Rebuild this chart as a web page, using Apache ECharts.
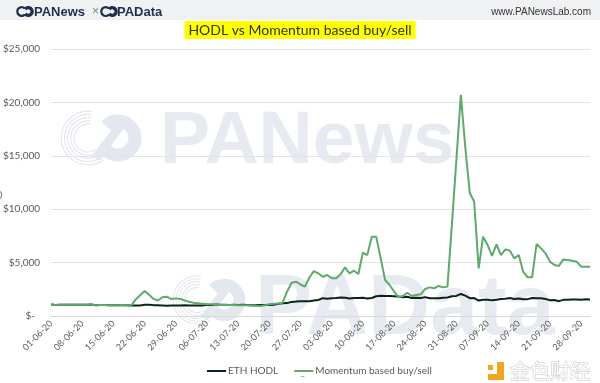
<!DOCTYPE html>
<html><head><meta charset="utf-8">
<script src="https://cdn.jsdelivr.net/npm/echarts@6/dist/echarts.min.js"></script>
<style>html,body{margin:0;padding:0;background:#fff}#c{width:600px;height:383px}</style>
</head><body><div id="c"></div>
<script>
// ---- data ----
const startDate = [2020, 5, 1]; // 01-06-20, daily through 30-09-20
const dayCount = 122;
const yTicks = [0, 5000, 10000, 15000, 20000, 25000];
const seriesNames = ['ETH HODL', 'Momentum based buy/sell'];
const ethHodl = [
 1069,1026,1057,1057,1044,1048,1061,1065,1057,1069,1000,1026,1031,1013,1000,1018,1022,1009,992,992,987,1052,1057,1018,1005,992,957,979,987,979,
 1000,992,979,992,983,1044,1035,1070,1052,1048,1035,1044,1035,1044,1031,1009,1009,1022,1035,1022,1061,1139,1191,1208,1321,1347,1390,1373,1377,1446,1498,
 1671,1606,1671,1684,1736,1710,1641,1693,1693,1710,1645,1684,1849,1897,1879,1875,1858,1832,1758,1801,1676,1710,1693,1767,1658,1671,1654,1710,1732,1853,1884,
 2065,1905,1667,1680,1451,1528,1528,1464,1520,1593,1619,1676,1585,1632,1576,1580,1680,1667,1658,1602,1477,1490,1390,1511,1524,1537,1546,1533,1559,1554
];
const momentum = [
 1069,1026,1057,1057,1044,1048,1061,1065,1057,1069,1000,1026,1031,1013,1000,1018,1022,1009,992,
 1550,1950,2340,2000,1600,1450,1750,1810,1590,1650,1600,
 1450,1330,1250,1190,1150,1110,1090,1060,1040,1030,
 1030,1020,1010,1000,1000,990,960,940,1000,1100,
 1150,1180,1250,2300,3120,3210,2950,2750,3600,4200,
 4000,3680,3840,3530,3530,3900,4560,4000,4240,3930,
 5930,5710,7430,7430,5400,3370,2900,2300,1750,1870,
 2180,1870,1970,2030,2530,2680,2590,2810,2680,2750,
 8600,14600,20700,15800,11540,10700,4460,7430,6650,5620,
 6710,5710,6240,6120,5400,5710,4150,3620,3620,6740,
 6330,5870,5090,4770,4680,5300,5240,5180,5090,4620,
 4620,4620
];
const titleText = 'HODL vs Momentum based buy/sell';

// categories (dd-mm-yy)
const categories = [];
{
  const d0 = new Date(Date.UTC(startDate[0], startDate[1], startDate[2]));
  for (let i = 0; i < dayCount; i++) {
    const d = new Date(d0.getTime() + i * 86400000);
    const dd = String(d.getUTCDate()).padStart(2, '0');
    const mm = String(d.getUTCMonth() + 1).padStart(2, '0');
    categories.push(dd + '-' + mm + '-' + String(d.getUTCFullYear()).slice(2));
  }
}

const FONT = 'Lato, "Open Sans", sans-serif';
const WM = '#e3e7ee';
const HODL_COLOR = '#0b2418';
const MOM_COLOR = '#5ea96b';
const chart = echarts.init(document.getElementById('c'), null, {renderer: 'canvas'});

function logoIcon(cx, cy, s, color, z) {
  return [
    {type: 'arc', z: z, silent: true, shape: {cx: cx - 3*s, cy: cy, r: 4*s, startAngle: Math.PI*0.25, endAngle: Math.PI*1.75, clockwise: true},
     style: {stroke: color, lineWidth: 2*s, fill: null}},
    {type: 'arc', z: z, silent: true, shape: {cx: cx + 3*s, cy: cy, r: 3.5*s, startAngle: -Math.PI*0.8, endAngle: Math.PI*0.8, clockwise: true},
     style: {stroke: color, lineWidth: 3*s, fill: null}}
  ];
}

function bigIcon(cx, cy, s, z) {
  const els = [];
  for (let k = 0; k < 5; k++) {
    els.push({type: 'arc', z: z, silent: true,
      shape: {cx: cx - 12*s, cy: cy, r: (14 + k*3.2)*s, startAngle: Math.PI*0.3, endAngle: Math.PI*1.55, clockwise: true},
      style: {stroke: WM, lineWidth: 1.2*s, fill: null}});
  }
  els.push({type: 'arc', z: z, silent: true,
    shape: {cx: cx + 18*s, cy: cy, r: 17*s, startAngle: -Math.PI*0.75, endAngle: Math.PI*0.75, clockwise: true},
    style: {stroke: WM, lineWidth: 13*s, fill: null}});
  els.push({type: 'line', z: z, silent: true,
    shape: {x1: cx - 4*s, y1: cy + 20*s, x2: cx + 26*s, y2: cy - 20*s},
    style: {stroke: WM, lineWidth: 9*s}});
  return els;
}

const graphics = [
  {type: 'rect', z: -5, silent: true, shape: {x: 0, y: 0, width: 600, height: 20}, style: {fill: '#f0f1f3'}},
  ...logoIcon(25, 11.5, 1.1, '#1f2d50', 1),
  {type: 'text', z: 1, silent: true, style: {x: 34, y: 12, text: 'PANews', font: 'bold 13px "Liberation Sans", Arial, sans-serif', fill: '#1f2d50', verticalAlign: 'middle'}},
  {type: 'text', z: 1, silent: true, style: {x: 92, y: 12, text: '×', font: '12px "Liberation Sans", Arial, sans-serif', fill: '#888', verticalAlign: 'middle'}},
  ...logoIcon(109, 11.5, 1.1, '#1f2d50', 1),
  {type: 'text', z: 1, silent: true, style: {x: 117, y: 12, text: 'PAData', font: 'bold 13px "Liberation Sans", Arial, sans-serif', fill: '#1f2d50', verticalAlign: 'middle'}},
  {type: 'text', z: 1, silent: true, style: {x: 591, y: 12, text: 'www.PANewsLab.com', font: '10px "Liberation Sans", Arial, sans-serif', fill: '#333', align: 'right', verticalAlign: 'middle'}},
  // watermarks
  ...bigIcon(100, 138, 1.0, 0),
  {type: 'text', z: 0, silent: true, style: {x: 160, y: 142, text: 'PANews', font: 'bold 75px "Liberation Sans", Arial, sans-serif', fill: WM, verticalAlign: 'middle', opacity: 0.85}},
  ...bigIcon(208, 300, 0.9, 0),
  {type: 'text', z: 0, silent: true, style: {x: 255, y: 310, text: 'PAData', font: 'bold 86px "Liberation Sans", Arial, sans-serif', fill: WM, verticalAlign: 'middle', opacity: 0.85}},
  // stray marks
  {type: 'text', z: 1, silent: true, style: {x: -4, y: 195, text: '0', font: '11px ' + FONT, fill: '#777', verticalAlign: 'middle'}},
  {type: 'text', z: 1, silent: true, style: {x: 300, y: 376, text: '–', font: '9px ' + FONT, fill: '#888', verticalAlign: 'middle'}},
  // 金色财经 logo
  {type: 'rect', z: 1, silent: true, shape: {x: 497, y: 362, width: 7, height: 18}, style: {fill: '#f2a61f'}},
  {type: 'rect', z: 1, silent: true, shape: {x: 488, y: 374, width: 16, height: 6}, style: {fill: '#f2a61f'}},
  {type: 'rect', z: 1, silent: true, shape: {x: 488, y: 365, width: 5, height: 5}, style: {fill: '#f2a61f'}},
  {type: 'text', z: 1, silent: true, style: {x: 510, y: 371, text: '金色财经', font: '20px "Noto Sans CJK SC", sans-serif', fill: '#fff', stroke: '#c4c4c4', lineWidth: 1, verticalAlign: 'middle'}}
];

chart.setOption({
  animation: false,
  backgroundColor: '#ffffff',
  title: {
    text: titleText, left: 'center', top: 21,
    backgroundColor: '#ffff00', padding: [2, 4, 2, 4],
    textStyle: {fontFamily: FONT, fontSize: 14, fontWeight: 'normal', color: '#333333'}
  },
  grid: {left: 48, right: 10, top: 49, bottom: 67, containLabel: false},
  legend: {
    data: [
      {name: seriesNames[0], icon: 'rect', itemStyle: {color: HODL_COLOR}},
      {name: seriesNames[1], icon: 'rect', itemStyle: {color: MOM_COLOR}}
    ],
    left: 202, top: 361,
    itemWidth: 19, itemHeight: 2, itemGap: 16,
    textStyle: {fontFamily: FONT, fontSize: 10, color: '#595959', padding: [0, 0, 0, -3]}
  },
  xAxis: {
    type: 'category', data: categories, boundaryGap: false,
    axisLine: {lineStyle: {color: '#d9d9d9'}},
    axisTick: {show: false},
    axisLabel: {interval: 6, rotate: 45, margin: 6, fontFamily: FONT, fontSize: 9, color: '#595959'},
    splitLine: {show: false}
  },
  yAxis: {
    type: 'value', min: yTicks[0], max: yTicks[yTicks.length - 1], interval: yTicks[1] - yTicks[0],
    axisLine: {show: false}, axisTick: {show: false},
    splitLine: {lineStyle: {color: '#e3e3e3', width: 1}},
    axisLabel: {
      margin: 11, fontFamily: FONT, fontSize: 10, color: '#595959',
      formatter: v => v === 0 ? '$-  ' : '$' + v.toLocaleString('en-US')
    }
  },
  graphic: graphics,
  series: [
    {name: seriesNames[0], type: 'line', data: ethHodl, symbol: 'none', z: 3,
     lineStyle: {color: HODL_COLOR, width: 2}, itemStyle: {color: HODL_COLOR}},
    {name: seriesNames[1], type: 'line', data: momentum, symbol: 'none', z: 4,
     lineStyle: {color: MOM_COLOR, width: 2}, itemStyle: {color: MOM_COLOR}}
  ]
});
</script>
</body></html>
